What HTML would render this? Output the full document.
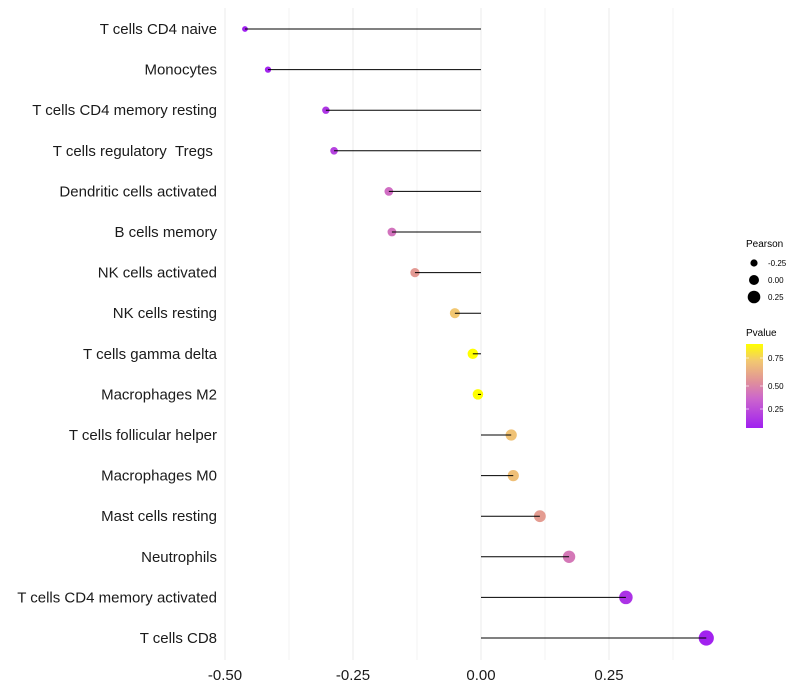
<!DOCTYPE html>
<html><head><meta charset="utf-8"><style>
body{margin:0;background:#fff}
svg{display:block;font-family:"Liberation Sans",sans-serif}
</style></head><body>
<svg id="chart" width="800" height="700">
<defs><linearGradient id="pg" x1="0" y1="1" x2="0" y2="0">
<stop offset="0" stop-color="#a020f0"/><stop offset="0.35" stop-color="#cc66cc"/><stop offset="0.55" stop-color="#e0909a"/><stop offset="0.8" stop-color="#f2c870"/><stop offset="1" stop-color="#ffff00"/></linearGradient></defs>
<g id="grid"></g>
<g id="marks"></g>
<g id="ylab"></g>
<g id="xlab"></g>
<g>
<text x="746" y="247" font-size="10">Pearson</text>
<circle cx="754" cy="263" r="3.6" fill="#000"/>
<text x="768" y="266" font-size="8">-0.25</text>
<circle cx="754" cy="280" r="5" fill="#000"/>
<text x="768" y="283" font-size="8">0.00</text>
<circle cx="754" cy="297" r="6.3" fill="#000"/>
<text x="768" y="300" font-size="8">0.25</text>
</g>
<g>
<text x="746" y="336" font-size="10">Pvalue</text>
<rect x="746" y="344" width="17" height="84" fill="url(#pg)"/>
<g stroke="#fff" stroke-width="0.8" opacity="0.8"><line x1="746" x2="749" y1="358" y2="358"/><line x1="760" x2="763" y1="358" y2="358"/><line x1="746" x2="749" y1="386" y2="386"/><line x1="760" x2="763" y1="386" y2="386"/><line x1="746" x2="749" y1="409" y2="409"/><line x1="760" x2="763" y1="409" y2="409"/></g>
<text x="768" y="361" font-size="8">0.75</text>
<text x="768" y="389" font-size="8">0.50</text>
<text x="768" y="412" font-size="8">0.25</text>
</g>
</svg>
<script>
const categories=["T cells CD4 naive","Monocytes","T cells CD4 memory resting","T cells regulatory\u00a0\u00a0Tregs\u00a0","Dendritic cells activated","B cells memory","NK cells activated","NK cells resting","T cells gamma delta","Macrophages M2","T cells follicular helper","Macrophages M0","Mast cells resting","Neutrophils","T cells CD4 memory activated","T cells CD8"];
const pearson=[-0.461,-0.416,-0.303,-0.287,-0.18,-0.174,-0.129,-0.051,-0.016,-0.006,0.059,0.063,0.115,0.172,0.283,0.44];
const pvalues=[0.06,0.08,0.15,0.2,0.38,0.4,0.55,0.72,0.95,0.98,0.7,0.69,0.56,0.42,0.14,0.07];
const xTicks=[-0.5,-0.25,0,0.25];
const xTickLabels=["-0.50","-0.25","0.00","0.25"];
const NS="http://www.w3.org/2000/svg";
const x=v=>481+v*512;
const y=i=>29+i*40.6;
const rScale=v=>5.3+5.2*v;
const stops=[[0,[160,32,240]],[0.35,[204,102,204]],[0.55,[224,144,154]],[0.8,[242,200,112]],[1,[255,255,0]]];
function col(p){let t=(p-0.06)/(0.89-0.06);t=Math.max(0,Math.min(1,t));
for(let k=1;k<stops.length;k++){if(t<=stops[k][0]){const a=stops[k-1],b=stops[k],f=(t-a[0])/(b[0]-a[0]);
return "rgb("+a[1].map((c,j)=>Math.round(c+(b[1][j]-c)*f)).join(",")+")";}}return "rgb(255,255,0)";}
function mk(t,a,p){const e=document.createElementNS(NS,t);for(const k in a)e.setAttribute(k,a[k]);p.appendChild(e);return e;}
const grid=document.getElementById('grid'),marks=document.getElementById('marks'),yl=document.getElementById('ylab'),xl=document.getElementById('xlab');
[-0.5,-0.375,-0.25,-0.125,0,0.125,0.25,0.375].forEach(v=>{
const g=mk('line',{x1:x(v),x2:x(v),y1:8,y2:660,stroke:'#ebebeb','stroke-width':v*8%2==0?1:0.6},grid);

});
categories.forEach((c,i)=>{
const cy=y(i);
const dot=mk('circle',{cx:x(pearson[i]),cy:cy,r:rScale(pearson[i]),fill:col(pvalues[i])},marks);


const seg=mk('line',{x1:x(0),x2:x(pearson[i]),y1:cy,y2:cy,stroke:'#000','stroke-width':1},marks);


const t=mk('text',{x:217,y:cy+5,'text-anchor':'end','font-size':15,fill:'#1a1a1a'},yl);
t.textContent=c;

});
xTicks.forEach((v,i)=>{
const t=mk('text',{x:x(v),y:680,'text-anchor':'middle','font-size':15,fill:'#1a1a1a'},xl);
t.textContent=xTickLabels[i];

});
</script>
</body></html>
